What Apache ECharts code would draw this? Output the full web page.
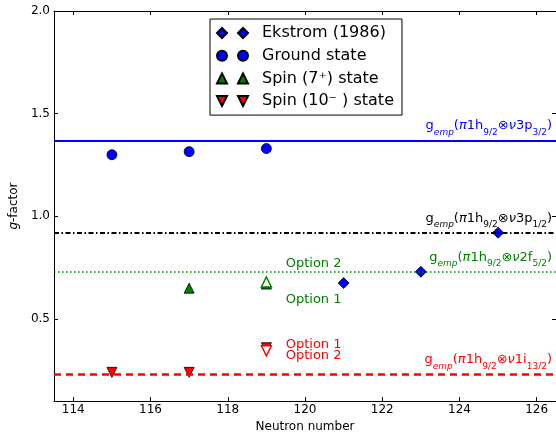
<!DOCTYPE html>
<html>
<head>
<meta charset="utf-8">
<script src="https://cdn.jsdelivr.net/npm/echarts@6/dist/echarts.min.js"></script>
<style>
html,body{margin:0;padding:0;background:#fff;}
#chart{width:556px;height:438px;}
</style>
</head>
<body>
<div id="chart"></div>
<script>
// ---- data ----
const ekstromN = [121, 123, 125];
const ekstromG = [0.675, 0.73, 0.92];
const groundN = [115, 117, 119];
const groundG = [1.30, 1.315, 1.33];
const spin7N = [117, 119];
const spin7G = [0.65, 0.67];
const spin7AltN = [119];
const spin7AltG = [0.68];
const spin10N = [115, 117, 119];
const spin10G = [0.24, 0.24, 0.36];
const spin10AltN = [119];
const spin10AltG = [0.345];
const refG = [1.37, 0.92, 0.73, 0.23];
const refOrbit = [['3p', '3/2'], ['3p', '1/2'], ['2f', '5/2'], ['1i', '13/2']];
const xTicks = [114, 116, 118, 120, 122, 124, 126];
const yTicks = [0.5, 1.0, 1.5, 2.0];
const seriesNames = ['Ekstrom (1986)', 'Ground state', 'Spin (7\u207A) state', 'Spin (10\u207B ) state'];

const FONT = 'DejaVu Sans';
const zip = (a, b) => a.map((v, i) => [v, b[i]]);

const richLab = {
  m: {fontFamily: FONT, fontSize: 13, lineHeight: 22, verticalAlign: 'middle'},
  mi: {fontFamily: FONT, fontSize: 13, lineHeight: 22, verticalAlign: 'middle', fontStyle: 'italic'},
  s: {fontFamily: FONT, fontSize: 9, lineHeight: 22, verticalAlign: 'bottom'},
  si: {fontFamily: FONT, fontSize: 9, lineHeight: 22, verticalAlign: 'bottom', fontStyle: 'italic'}
};
function refLabel(o) {
  return '{m|g}{si|emp}{m|(}{mi|\u03C0}{m|1h}{s|9/2}{m|\u2297}{mi|\u03BD}{m|' + o[0] + '}{s|' + o[1] + '}{m|)}';
}
const refColors = ['#0000ff', '#000000', '#008000', '#ff0000'];
const refStyles = [
  {type: 'solid', width: 2},
  {type: [5, 2.5, 1.5, 2.5], width: 2},
  {type: [1.5, 2.5], width: 1.5},
  {type: [7, 5], width: 2.5}
];

const axisCommon = {
  axisLine: {show: true, onZero: false, lineStyle: {color: '#000', width: 1}},
  splitLine: {show: false}
};

const chart = echarts.init(document.getElementById('chart'), null, {renderer: 'canvas'});
const option = {
  animation: false,
  backgroundColor: '#ffffff',
  grid: {left: 52.5, top: 11, right: -3.5, bottom: 32, containLabel: false},
  legend: {
    orient: 'vertical',
    left: 210, top: 19,
    padding: [5, 8, 5, 6],
    itemGap: 4.7,
    itemWidth: 31, itemHeight: 10,
    borderColor: '#000', borderWidth: 1, borderRadius: 0,
    backgroundColor: '#fff',
    textStyle: {fontFamily: FONT, fontSize: 16, color: '#000', padding: [0, 0, 0, 9], lineHeight: 18},
    data: [
      {name: seriesNames[0], icon: 'path://M5,0 L10,5 L5,10 L0,5 Z M26,0 L31,5 L26,10 L21,5 Z'},
      {name: seriesNames[1], icon: 'path://M0,5 A5,5 0 1,0 10,5 A5,5 0 1,0 0,5 Z M21,5 A5,5 0 1,0 31,5 A5,5 0 1,0 21,5 Z'},
      {name: seriesNames[2], icon: 'path://M5,0 L10,10 L0,10 Z M26,0 L31,10 L21,10 Z'},
      {name: seriesNames[3], icon: 'path://M0,0 L10,0 L5,10 Z M21,0 L31,0 L26,10 Z'}
    ]
  },
  xAxis: [
    Object.assign({}, axisCommon, {
      type: 'value', min: 113.5, max: 126.5, position: 'bottom',
      axisTick: {show: true, inside: true, length: 4, customValues: xTicks, lineStyle: {color: '#000'}},
      axisLabel: {customValues: xTicks, margin: 3, fontFamily: FONT, fontSize: 12, color: '#000'},
      name: 'Neutron number', nameLocation: 'middle', nameGap: 19,
      nameTextStyle: {fontFamily: FONT, fontSize: 12, color: '#000'}
    }),
    Object.assign({}, axisCommon, {
      type: 'value', min: 113.5, max: 126.5, position: 'top',
      axisTick: {show: true, inside: true, length: 4, customValues: xTicks, lineStyle: {color: '#000'}},
      axisLabel: {show: false}
    })
  ],
  yAxis: [
    Object.assign({}, axisCommon, {
      type: 'value', min: 0.1, max: 2.0, position: 'left',
      axisTick: {show: true, inside: true, length: 4, customValues: yTicks, lineStyle: {color: '#000'}},
      axisLabel: {customValues: yTicks, margin: 4, fontFamily: FONT, fontSize: 12, color: '#000',
        formatter: v => Number(v).toFixed(1)},
      name: '{i|g}-factor', nameLocation: 'middle', nameGap: 22, nameRotate: 90,
      nameTextStyle: {fontFamily: FONT, fontSize: 12, color: '#000',
        rich: {i: {fontFamily: FONT, fontSize: 12, fontStyle: 'italic', color: '#000'}}}
    }),
    Object.assign({}, axisCommon, {
      type: 'value', min: 0.1, max: 2.0, position: 'right',
      axisTick: {show: true, inside: true, length: 4, customValues: yTicks, lineStyle: {color: '#000'}},
      axisLabel: {show: false}
    })
  ],
  series: [
    {
      name: 'refs', type: 'line', data: [], z: 1, silent: true,
      markLine: {
        silent: true, symbol: 'none', animation: false,
        data: refG.map((g, i) => ({
          yAxis: g,
          lineStyle: Object.assign({color: refColors[i]}, refStyles[i]),
          label: {
            show: true, position: 'insideEndTop', distance: [4, 3.5],
            color: refColors[i], formatter: refLabel(refOrbit[i]),
            rich: richLab
          }
        }))
      }
    },
    {
      name: seriesNames[0], type: 'scatter', symbol: 'diamond', symbolSize: 11, z: 3,
      itemStyle: {color: '#0000ff', borderColor: '#000', borderWidth: 0.8, opacity: 1},
      data: zip(ekstromN, ekstromG)
    },
    {
      name: seriesNames[1], type: 'scatter', symbol: 'circle', symbolSize: 10, z: 3,
      itemStyle: {color: '#0000ff', borderColor: '#000', borderWidth: 0.8, opacity: 1},
      data: zip(groundN, groundG)
    },
    {
      name: seriesNames[2], type: 'scatter', symbol: 'triangle', symbolSize: 10, z: 3,
      itemStyle: {color: '#008000', borderColor: '#000', borderWidth: 0.8, opacity: 1},
      data: zip(spin7N, spin7G),
      markPoint: {
        symbol: 'circle', symbolSize: 0, silent: true, animation: false,
        label: {show: true, position: 'right', distance: 0, color: '#008000',
          fontFamily: FONT, fontSize: 13, formatter: '{b}'},
        data: [
          {name: 'Option 2', coord: [119.5, 0.77]},
          {name: 'Option 1', coord: [119.5, 0.593]}
        ]
      }
    },
    {
      name: seriesNames[3], type: 'scatter', symbol: 'path://M0,0 L2,0 L1,2 Z', symbolSize: 10, z: 3,
      itemStyle: {color: '#ff0000', borderColor: '#000', borderWidth: 0.8, opacity: 1},
      data: zip(spin10N, spin10G),
      markPoint: {
        symbol: 'circle', symbolSize: 0, silent: true, animation: false,
        label: {show: true, position: 'right', distance: 0, color: '#ff0000',
          fontFamily: FONT, fontSize: 13, formatter: '{b}'},
        data: [
          {name: 'Option 1', coord: [119.5, 0.373]},
          {name: 'Option 2', coord: [119.5, 0.32]}
        ]
      }
    },
    {
      name: 'spin7alt', type: 'scatter', symbol: 'triangle', symbolSize: 10, z: 4,
      itemStyle: {color: '#ffffff', borderColor: '#008000', borderWidth: 1.5, opacity: 1},
      data: zip(spin7AltN, spin7AltG)
    },
    {
      name: 'spin10alt', type: 'scatter', symbol: 'path://M0,0 L2,0 L1,2 Z', symbolSize: 10, z: 4,
      itemStyle: {color: '#ffffff', borderColor: '#ff0000', borderWidth: 1.5, opacity: 1},
      data: zip(spin10AltN, spin10AltG)
    }
  ]
};
chart.setOption(option);
</script>
</body>
</html>
